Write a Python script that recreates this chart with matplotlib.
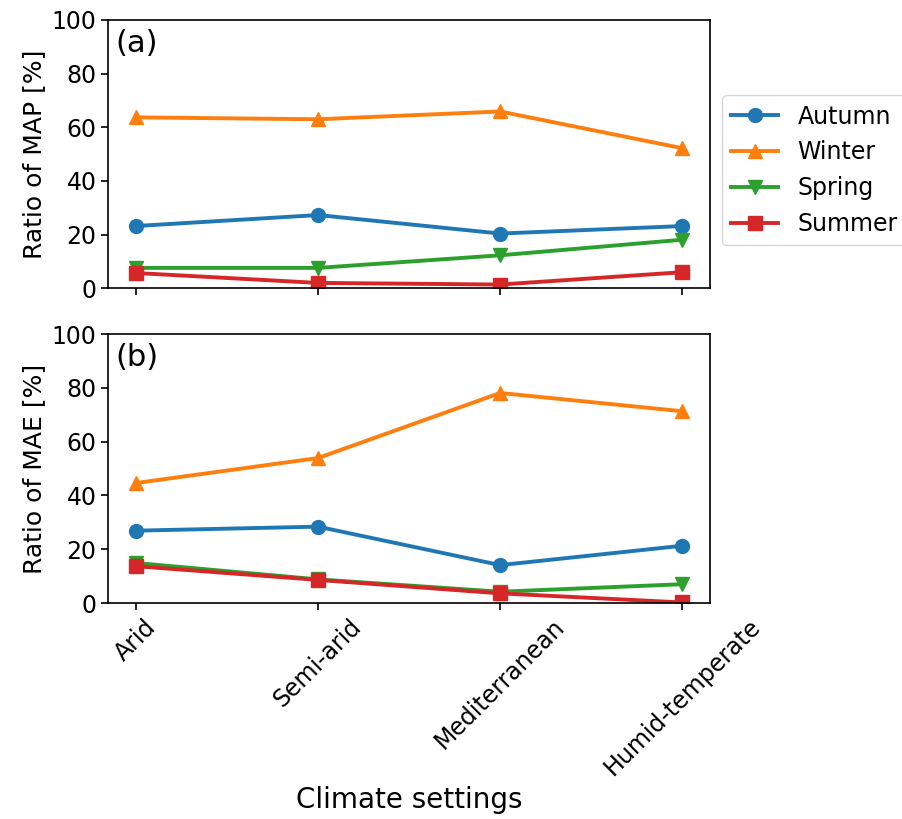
import matplotlib
matplotlib.use("Agg")
import matplotlib.pyplot as plt

# climate settings on the x axis
climates = ["Arid", "Semi-arid", "Mediterranean", "Humid-temperate"]
seasons = ["Autumn", "Winter", "Spring", "Summer"]

# (a) ratio of mean annual precipitation per season [%]
map_autumn = [23.2, 27.3, 20.4, 23.2]
map_winter = [63.7, 63.0, 65.9, 52.2]
map_spring = [7.6, 7.6, 12.3, 18.1]
map_summer = [5.7, 2.0, 1.4, 6.0]

# (b) ratio of mean annual erosion per season [%]
mae_autumn = [26.9, 28.4, 14.1, 21.3]
mae_winter = [44.6, 53.9, 78.1, 71.3]
mae_spring = [14.9, 8.8, 4.2, 7.0]
mae_summer = [13.7, 8.6, 3.6, 0.2]

markers = ["o", "^", "v", "s"]
colors = ["tab:blue", "tab:orange", "tab:green", "tab:red"]

fig = plt.figure(figsize=(9.03, 8.19), dpi=100)
ax1 = fig.add_axes([0.120, 0.648, 0.666, 0.3276])
ax2 = fig.add_axes([0.120, 0.2637, 0.666, 0.3284])

x = list(range(len(climates)))

for ax, series, ylabel, tag in [
    (ax1, [map_autumn, map_winter, map_spring, map_summer], "Ratio of MAP [%]", "(a)"),
    (ax2, [mae_autumn, mae_winter, mae_spring, mae_summer], "Ratio of MAE [%]", "(b)"),
]:
    for vals, name, m, c in zip(series, seasons, markers, colors):
        ax.plot(x, vals, marker=m, color=c, label=name, lw=2.8, markersize=10)
    ax.set_ylim(0, 100)
    ax.set_yticks([0, 20, 40, 60, 80, 100])
    ax.set_xticks(x)
    ax.set_ylabel(ylabel, fontsize=18)
    ax.tick_params(labelsize=17, length=5, width=1.2)
    for s in ax.spines.values():
        s.set_linewidth(1.2)
    ax.text(0.012, 0.965, tag, transform=ax.transAxes, fontsize=22, va="top")

ax1.set_xticklabels([])
ax2.set_xticklabels(climates, rotation=45)
ax2.set_xlabel("Climate settings", fontsize=20)

ax1.legend(loc="center left", bbox_to_anchor=(1.02, 0.44), borderaxespad=0,
           fontsize=17)

fig.savefig("out.png", dpi=100)
